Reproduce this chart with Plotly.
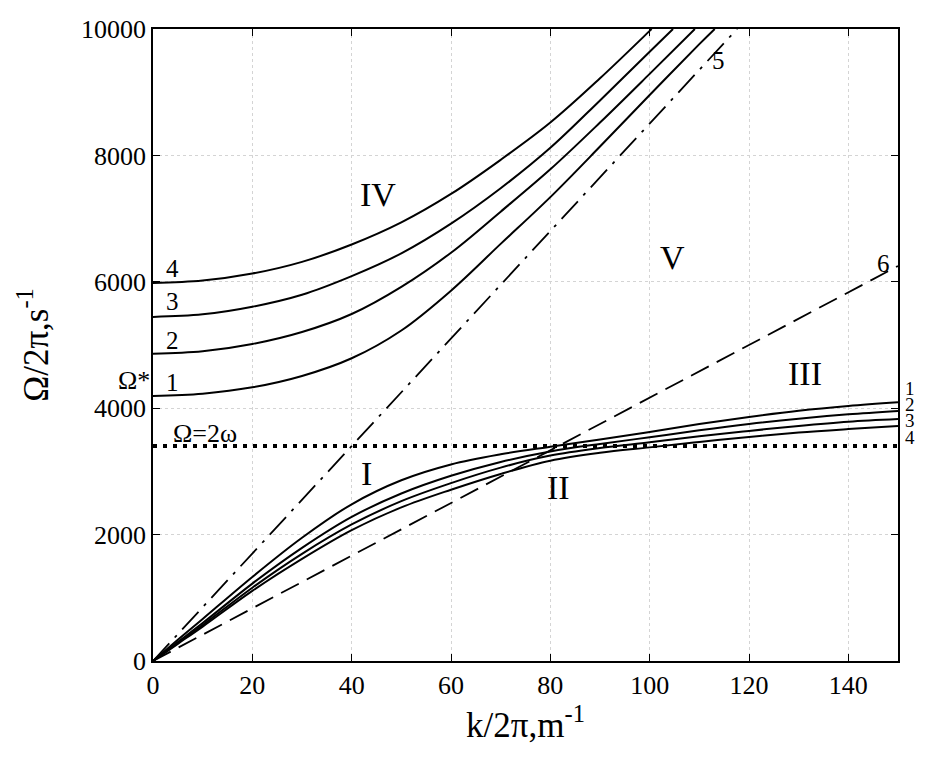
import plotly.graph_objects as go

# ---- data ----
k_low = [0, 5, 10, 20, 30, 40, 50, 60, 70, 80, 90, 100, 110, 120, 130, 140, 150]
low1 = [0, 335, 665, 1330, 1950, 2480, 2860, 3110, 3270, 3390, 3505, 3625, 3750, 3862, 3960, 4035, 4093]
low2 = [0, 300, 600, 1225, 1790, 2280, 2650, 2930, 3150, 3315, 3435, 3540, 3650, 3750, 3835, 3903, 3956]
low3 = [0, 285, 568, 1160, 1695, 2160, 2530, 2815, 3060, 3250, 3370, 3460, 3555, 3640, 3720, 3787, 3830]
low4 = [0, 272, 545, 1110, 1615, 2070, 2430, 2710, 2960, 3170, 3295, 3380, 3465, 3545, 3615, 3670, 3718]

k_up1 = [0, 10, 20, 30, 40, 50, 60, 70, 80, 90, 100, 110, 113.1]
up1 = [4193, 4230, 4330, 4510, 4790, 5230, 5860, 6600, 7340, 8140, 8956, 9760, 10000]
k_up2 = [0, 10, 20, 30, 40, 50, 60, 70, 80, 90, 100, 109.1]
up2 = [4860, 4900, 5015, 5205, 5490, 5920, 6460, 7110, 7780, 8520, 9290, 10000]
k_up3 = [0, 10, 20, 30, 40, 50, 60, 70, 80, 90, 100, 104.7]
up3 = [5445, 5485, 5605, 5795, 6090, 6450, 6920, 7480, 8120, 8870, 9640, 10000]
k_up4 = [0, 10, 20, 30, 40, 50, 60, 70, 80, 90, 100, 100.4]
up4 = [5980, 6020, 6130, 6315, 6590, 6940, 7390, 7930, 8520, 9220, 9970, 10000]

k_line5 = [0, 117.6]
line5 = [0, 10000]
k_line6 = [0, 150]
line6 = [0, 6250]
k_two_omega = [0, 150]
two_omega = [3400, 3400]

x_ticks = [0, 20, 40, 60, 80, 100, 120, 140]
y_ticks = [0, 2000, 4000, 6000, 8000, 10000]

FONT = "Liberation Serif"

fig = go.Figure()

for kx, vals in [(k_low, low1), (k_low, low2), (k_low, low3), (k_low, low4),
                 (k_up1, up1), (k_up2, up2), (k_up3, up3), (k_up4, up4)]:
    fig.add_trace(go.Scatter(x=kx, y=vals, mode="lines",
                             line=dict(color="black", width=2, shape="spline", smoothing=1.0),
                             showlegend=False, hoverinfo="skip"))

fig.add_trace(go.Scatter(x=k_line5, y=line5, mode="lines",
                         line=dict(color="black", width=1.8, dash="24px,8px,3px,8px"),
                         showlegend=False, hoverinfo="skip"))
fig.add_trace(go.Scatter(x=k_line6, y=line6, mode="lines",
                         line=dict(color="black", width=1.8, dash="20px,9px"),
                         showlegend=False, hoverinfo="skip"))
fig.add_trace(go.Scatter(x=k_two_omega, y=two_omega, mode="lines",
                         line=dict(color="black", width=4, dash="4px,6px"),
                         showlegend=False, hoverinfo="skip"))

X0, X1 = 153.0, 898.0  # plot-area pixel edges (for paper coordinates)


def ann(x, y, text, size=25):
    fig.add_annotation(x=x, y=y, xref="x", yref="y", text=text, showarrow=False,
                       xanchor="center", yanchor="middle",
                       font=dict(family=FONT, size=size, color="black"))


def ann_px(px, y, text, size=25):
    fig.add_annotation(x=(px - X0) / (X1 - X0), y=y, xref="paper", yref="y", text=text,
                       showarrow=False, xanchor="center", yanchor="middle", borderpad=0,
                       font=dict(family=FONT, size=size, color="black"))


# curve labels left
ann(4.0, 6218, "4")
ann(4.0, 5696, "3")
ann(4.0, 5079, "2")
ann(4.0, 4399, "1")
ann_px(134, 4440, "Ω*", size=26)
ann(10.5, 3600, "Ω=2ω", size=26)
ann(113.8, 9509, "5")
ann(147, 6297, "6")
# right labels (outside the plot area)
ann_px(910, 4304, "1", size=19)
ann_px(910, 4066, "2", size=19)
ann_px(910, 3813, "3", size=19)
ann_px(910, 3544, "4", size=19)
# regions
ann(45.3, 7389, "IV", size=34)
ann(104.5, 6377, "V", size=34)
ann(131.3, 4557, "III", size=34)
ann(42.9, 2959, "I", size=34)
ann(81.7, 2753, "II", size=34)

axis_common = dict(showline=True, linecolor="black", linewidth=1.5, mirror="allticks",
                   ticks="inside", ticklen=7, tickcolor="black",
                   showgrid=True, gridcolor="#d4d4d4", griddash="dot", gridwidth=1,
                   zeroline=False, tickfont=dict(family=FONT, size=26, color="black"))

fig.update_xaxes(range=[0, 150], tickvals=x_ticks, ticktext=[str(v) for v in x_ticks],
                 title=dict(text="k/2π,m<sup>-1</sup>", font=dict(family=FONT, size=35, color="black"),
                            standoff=8),
                 **axis_common)
fig.update_yaxes(range=[0, 10000], tickvals=y_ticks, ticktext=[str(v) for v in y_ticks],
                 title=dict(text="Ω/2π,s<sup>-1</sup>", font=dict(family=FONT, size=35, color="black"),
                            standoff=22),
                 **axis_common)

fig.update_layout(width=944, height=767, margin=dict(l=153, r=46, t=29, b=106),
                  plot_bgcolor="white", paper_bgcolor="white", showlegend=False)

fig.write_html("out.html")
